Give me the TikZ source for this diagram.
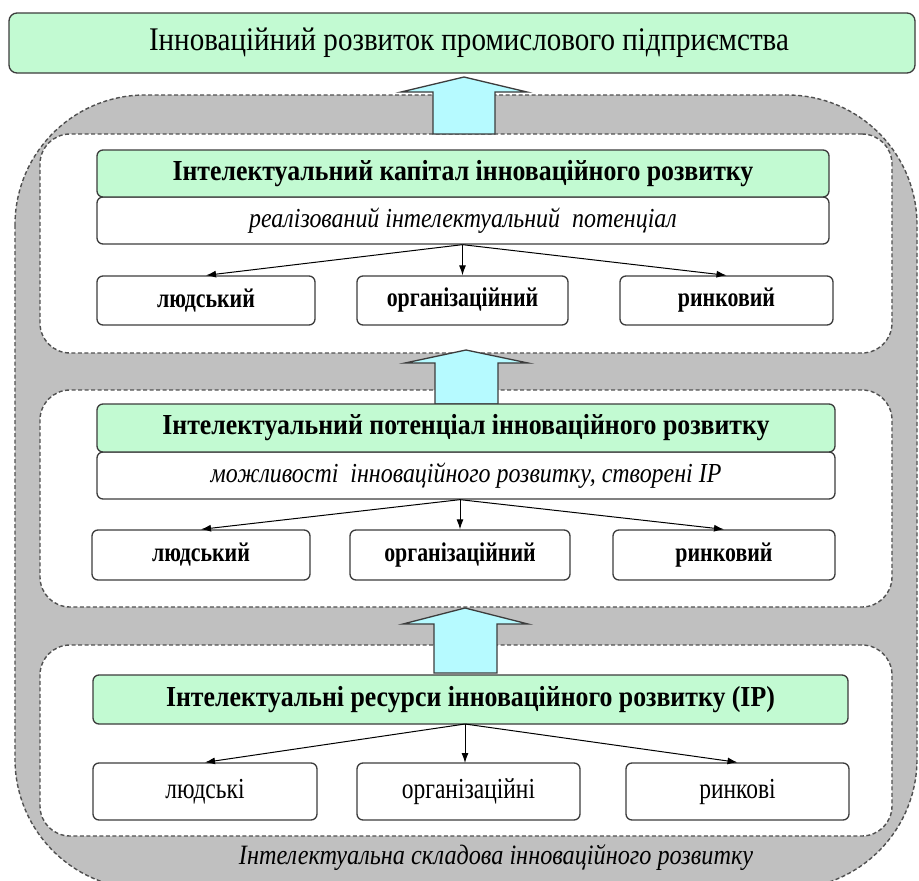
\documentclass[tikz,border=0pt]{standalone}
\usepackage{fontspec}
\setmainfont{Liberation Serif}
\newfontfamily\titlefont[FakeStretch=0.88]{Liberation Serif}
\newfontfamily\headfont[FakeStretch=0.89]{Liberation Serif}
\newfontfamily\notefont[FakeStretch=0.87]{Liberation Serif}
\newfontfamily\itemfont[FakeStretch=0.81]{Liberation Serif}
\newfontfamily\capfont[FakeStretch=0.865]{Liberation Serif}
\usetikzlibrary{arrows.meta}
\definecolor{mint}{RGB}{194,250,210}
\definecolor{sky}{RGB}{182,250,255}
\definecolor{panel}{RGB}{192,192,192}
\definecolor{edge}{RGB}{60,60,60}
\definecolor{dashedge}{RGB}{80,80,80}
\begin{document}
\begin{tikzpicture}[x=1pt,y=-1pt,
  box/.style={draw=edge, line width=1.3pt, rounded corners=6pt, inner sep=0pt, text=black},
  headbox/.style={box, fill=mint, font=\headfont\fontsize{29}{33}\selectfont\bfseries},
  notebox/.style={box, fill=white, font=\notefont\fontsize{27.5}{31}\selectfont\itshape},
  itembox/.style={box, fill=white, font=\itemfont\fontsize{27}{31}\selectfont\bfseries},
  plainbox/.style={box, fill=white, font=\itemfont\fontsize{29}{33}\selectfont},
  zone/.style={draw=dashedge, dash pattern=on 4pt off 2.5pt, line width=1.4pt, fill=white, rounded corners=30pt, inner sep=0pt},
  lift/.style={draw=edge, line width=1.3pt, fill=sky, line join=miter},
  link/.style={draw=black, line width=1pt, -{Latex[length=10pt,width=7pt]}}]

\useasboundingbox (0,0) rectangle (919,881);
\clip (0,0) rectangle (919,881);
\fill[white] (0,0) rectangle (919,881);

% goal at the top
\node[box, fill=mint, rounded corners=8pt, minimum width=906pt, minimum height=60pt,
      font=\titlefont\fontsize{33}{37}\selectfont] (goal) at (462,43)
      {\hspace*{14pt}Інноваційний розвиток промислового підприємства};

% grey frame holding the three levels
\path[draw=dashedge, dash pattern=on 4pt off 2.5pt, line width=1.4pt, fill=panel,
      rounded corners=130pt] (15,95) rectangle (917,889);

% the three dashed levels
\node[zone, minimum width=852pt, minimum height=219pt] (z1) at (466,243.5) {};
\node[zone, minimum width=852pt, minimum height=217pt] (z2) at (466,498.5) {};
\node[zone, minimum width=852pt, minimum height=191pt] (z3) at (466,740.5) {};

% block arrows between the levels
\path[lift] (433,134) -- (433,92) -- (401,92) -- (464,77) -- (527,92) -- (495,92) -- (495,134) -- cycle;
\path[lift] (435,404) -- (435,363) -- (405,363) -- (466,350) -- (528,363) -- (498,363) -- (498,404) -- cycle;
\path[lift] (434,673) -- (434,624) -- (403,624) -- (465,608) -- (528,624) -- (497,624) -- (497,673) -- cycle;

% level 1: intellectual capital
\node[notebox, minimum width=732pt, minimum height=47pt] (n1) at (463,220.5)
      {реалізований інтелектуальний\ \ потенціал};
\node[headbox, minimum width=732pt, minimum height=47pt] (h1) at (463,173.5)
      {Інтелектуальний капітал інноваційного розвитку};
\node[itembox, minimum width=218pt, minimum height=49pt] (l1) at (206,300.5) {людський};
\node[itembox, minimum width=211pt, minimum height=49pt] (m1) at (462.5,300.5) {організаційний};
\node[itembox, minimum width=213pt, minimum height=49pt] (r1) at (726.5,300.5) {ринковий};

% level 2: intellectual potential
\node[notebox, minimum width=738pt, minimum height=47pt] (n2) at (466,475.5)
      {можливості\ \ інноваційного розвитку, створені ІР};
\node[headbox, minimum width=738pt, minimum height=48pt] (h2) at (466,428)
      {Інтелектуальний потенціал інноваційного розвитку};
\node[itembox, minimum width=218pt, minimum height=50pt] (l2) at (201,555) {людський};
\node[itembox, minimum width=220pt, minimum height=50pt] (m2) at (460,555) {організаційний};
\node[itembox, minimum width=222pt, minimum height=50pt] (r2) at (724,555) {ринковий};

% level 3: intellectual resources
\node[headbox, minimum width=755pt, minimum height=49pt] (h3) at (470.5,699.5)
      {Інтелектуальні ресурси інноваційного розвитку (ІР)};
\node[plainbox, minimum width=224pt, minimum height=57pt] (l3) at (205,791.5) {людські};
\node[plainbox, minimum width=223pt, minimum height=57pt] (m3) at (468.5,791.5) {організаційні};
\node[plainbox, minimum width=223pt, minimum height=57pt] (r3) at (737.5,791.5) {ринкові};

% fan-out connectors
\draw[link] (m1.north |- n1.south) -- (l1.north);
\draw[link] (m1.north |- n1.south) -- (m1.north);
\draw[link] (m1.north |- n1.south) -- (r1.north);
\draw[link] (m2.north |- n2.south) -- (l2.north);
\draw[link] (m2.north |- n2.south) -- (m2.north);
\draw[link] (m2.north |- n2.south) -- (r2.north);
\coordinate (f3) at (465,724);
\coordinate (m3top) at (465,763);
\draw[link] (f3) -- (l3.north);
\draw[link] (f3) -- (m3top);
\draw[link] (f3) -- (r3.north);

% caption of the grey frame
\node[font=\capfont\fontsize{28}{32}\selectfont\itshape] (cap) at (496,858)
      {Інтелектуальна складова інноваційного розвитку};
\end{tikzpicture}
\end{document}
